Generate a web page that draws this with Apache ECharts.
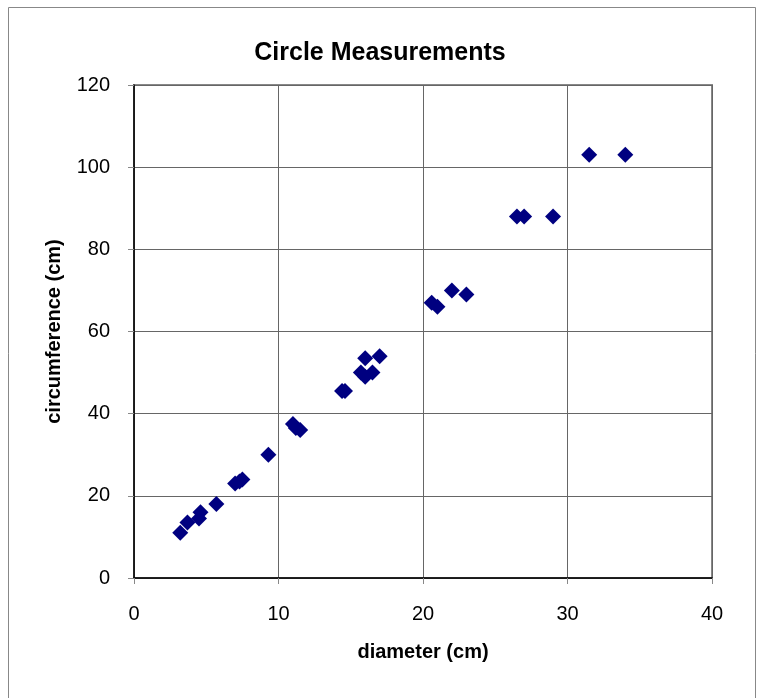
<!DOCTYPE html>
<html>
<head>
<meta charset="utf-8">
<script src="https://cdn.jsdelivr.net/npm/echarts@6/dist/echarts.min.js"></script>
<style>
  html, body { margin: 0; padding: 0; background: #fff; }
  #chart { width: 760px; height: 698px; }
</style>
</head>
<body>
<div id="chart"></div>
<script>
// diameter / circumference readings (cm)
var diameter = [3.2, 3.7, 4.5, 4.6, 5.7, 7.0, 7.3, 7.5, 9.3, 11.0, 11.2, 11.5, 14.4, 14.6,
                15.7, 16.0, 16.0, 16.5, 17.0, 20.6, 21.0, 22.0, 23.0, 26.5, 27.0, 29.0, 31.5, 34.0];
var circumference = [11, 13.5, 14.5, 16, 18, 23, 23.5, 24, 30, 37.5, 36.5, 36, 45.5, 45.5,
                     50, 49, 53.5, 50, 54, 67, 66, 70, 69, 88, 88, 88, 103, 103];

var points = diameter.map(function (d, i) { return [d, circumference[i]]; });

var font = "'Liberation Sans', Arial, sans-serif";

var option = {
    animation: false,
    backgroundColor: '#fff',
    textStyle: { fontFamily: font },
    title: {
        text: 'Circle Measurements',
        left: 'center',
        top: 36,
        textStyle: { fontSize: 25, fontWeight: 'bold', color: '#000', fontFamily: font }
    },
    graphic: [{
        type: 'rect',
        shape: { x: 8.5, y: 7.5, width: 747, height: 700 },
        style: { fill: 'none', stroke: '#888', lineWidth: 1 },
        silent: true
    }],
    grid: {
        left: 134, top: 85, right: 48, bottom: 120,
        show: true, borderColor: '#888', borderWidth: 2
    },
    xAxis: {
        type: 'value',
        min: 0, max: 40, interval: 10,
        name: 'diameter (cm)',
        nameLocation: 'middle',
        nameGap: 64,
        nameTextStyle: { fontSize: 20, fontWeight: 'bold', color: '#000', fontFamily: font },
        axisLine: { show: true, onZero: false, lineStyle: { color: '#000', width: 1.5 } },
        axisTick: { show: true, length: 6, lineStyle: { color: '#888' } },
        axisLabel: { margin: 26, fontSize: 20, color: '#000', fontFamily: font },
        splitLine: { show: true, lineStyle: { color: '#666', width: 1 } }
    },
    yAxis: {
        type: 'value',
        min: 0, max: 120, interval: 20,
        name: 'circumference (cm)',
        nameLocation: 'middle',
        nameGap: 70,
        nameTextStyle: { fontSize: 20, fontWeight: 'bold', color: '#000', fontFamily: font },
        axisLine: { show: true, onZero: false, lineStyle: { color: '#000', width: 1.5 } },
        axisTick: { show: true, length: 6, lineStyle: { color: '#888' } },
        axisLabel: { margin: 24, fontSize: 20, color: '#000', fontFamily: font },
        splitLine: { show: true, lineStyle: { color: '#666', width: 1 } }
    },
    series: [{
        type: 'scatter',
        symbol: 'diamond',
        symbolSize: 16,
        itemStyle: { color: '#000080', opacity: 1 },
        data: points
    }]
};

var myChart = echarts.init(document.getElementById('chart'));
myChart.setOption(option);
</script>
</body>
</html>
